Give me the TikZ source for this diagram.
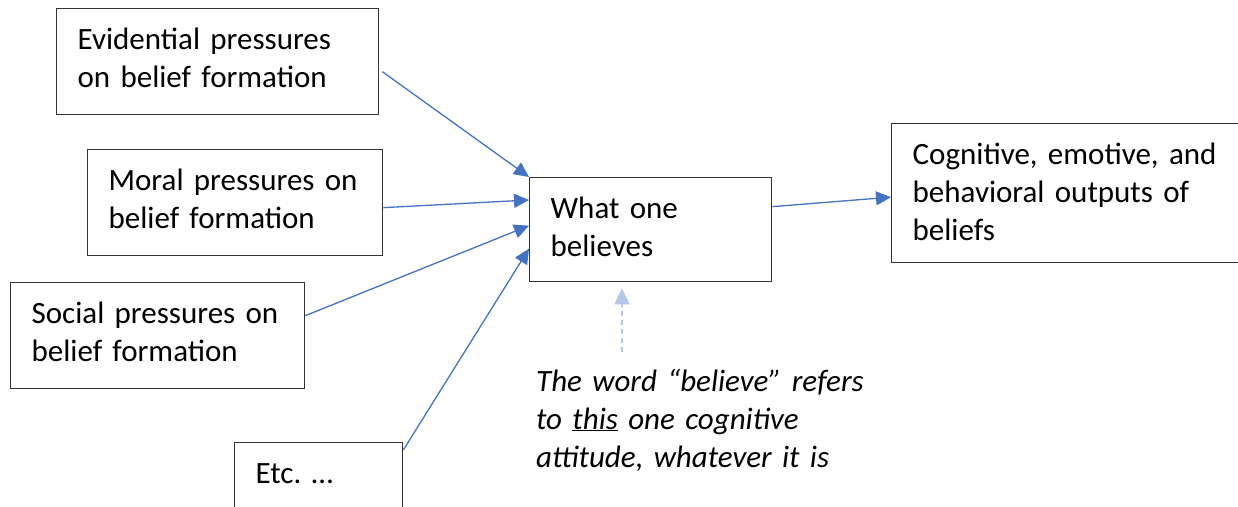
\documentclass[tikz,border=0pt]{standalone}
\usepackage{fontspec}
\setmainfont{Carlito}
\frenchspacing
\usetikzlibrary{arrows.meta}
\definecolor{linkblue}{RGB}{68,114,196}
\definecolor{paleblue}{RGB}{180,199,231}
\tikzset{
box/.style={draw=black!80, line width=1.3pt, align=left, inner xsep=21pt, inner ysep=18pt, text height=23pt},
push/.style={draw=linkblue, line width=1.3pt, -{Triangle[length=15pt,width=14pt]}},
hint/.style={draw=paleblue, line width=1.3pt, dash pattern=on 5pt off 4pt, -{Triangle[length=16pt,width=15pt]}}
}
\begin{document}
\begin{tikzpicture}[x=1pt,y=-1pt,font=\fontsize{31}{38}\selectfont]
\useasboundingbox (0,0) rectangle (1238,506);
\def\bx#1#2#3#4#5#6{
\node[box, anchor=north west, minimum width=#4pt, minimum height=#5pt, text width={(#4-42)*1pt}, text depth={(#5-59)*1pt}] (#1) at (#2,#3) {#6};
}
\bx{evid}{56}{8}{322}{106}{Evidential pressures\\on belief formation}
\bx{moral}{87}{149}{295}{106}{Moral pressures on\\belief formation}
\bx{social}{10}{282}{294}{106}{Social pressures on\\belief formation}
\bx{etc}{234}{442}{168}{80}{Etc. …}
\bx{what}{529}{177}{242}{104}{What one\\believes}
\bx{cogn}{891}{123}{356}{139}{Cognitive, emotive, and\\behavioral outputs of\\beliefs}
% the note under the middle box
\node[anchor=base west, text width=340pt, align=left, inner sep=0pt, font=\fontsize{31}{38}\selectfont\itshape] (note) at (536,391) {The word “believe” refers\\to \underline{this} one cognitive\\attitude, whatever it is};
\coordinate (hintfoot) at (622,352);
% pressures in, outputs out
\draw[push] ([shift={(3,10)}]evid.east) -- (what.north west);
\draw[push] ([yshift=-5pt]moral.east) -- ([yshift=-23pt]what.north west);
\draw[push] ([yshift=20pt]social.east) -- ([yshift=4pt]what.west);
\draw[push] ([yshift=-8pt]etc.north east) -- ([yshift=-19pt]what.west);
\draw[push] ([yshift=23pt]what.east) -- ([yshift=-4pt]cogn.west);
\draw[hint, shorten >=6pt] (hintfoot) -- (hintfoot |- what.south);
\end{tikzpicture}
\end{document}
